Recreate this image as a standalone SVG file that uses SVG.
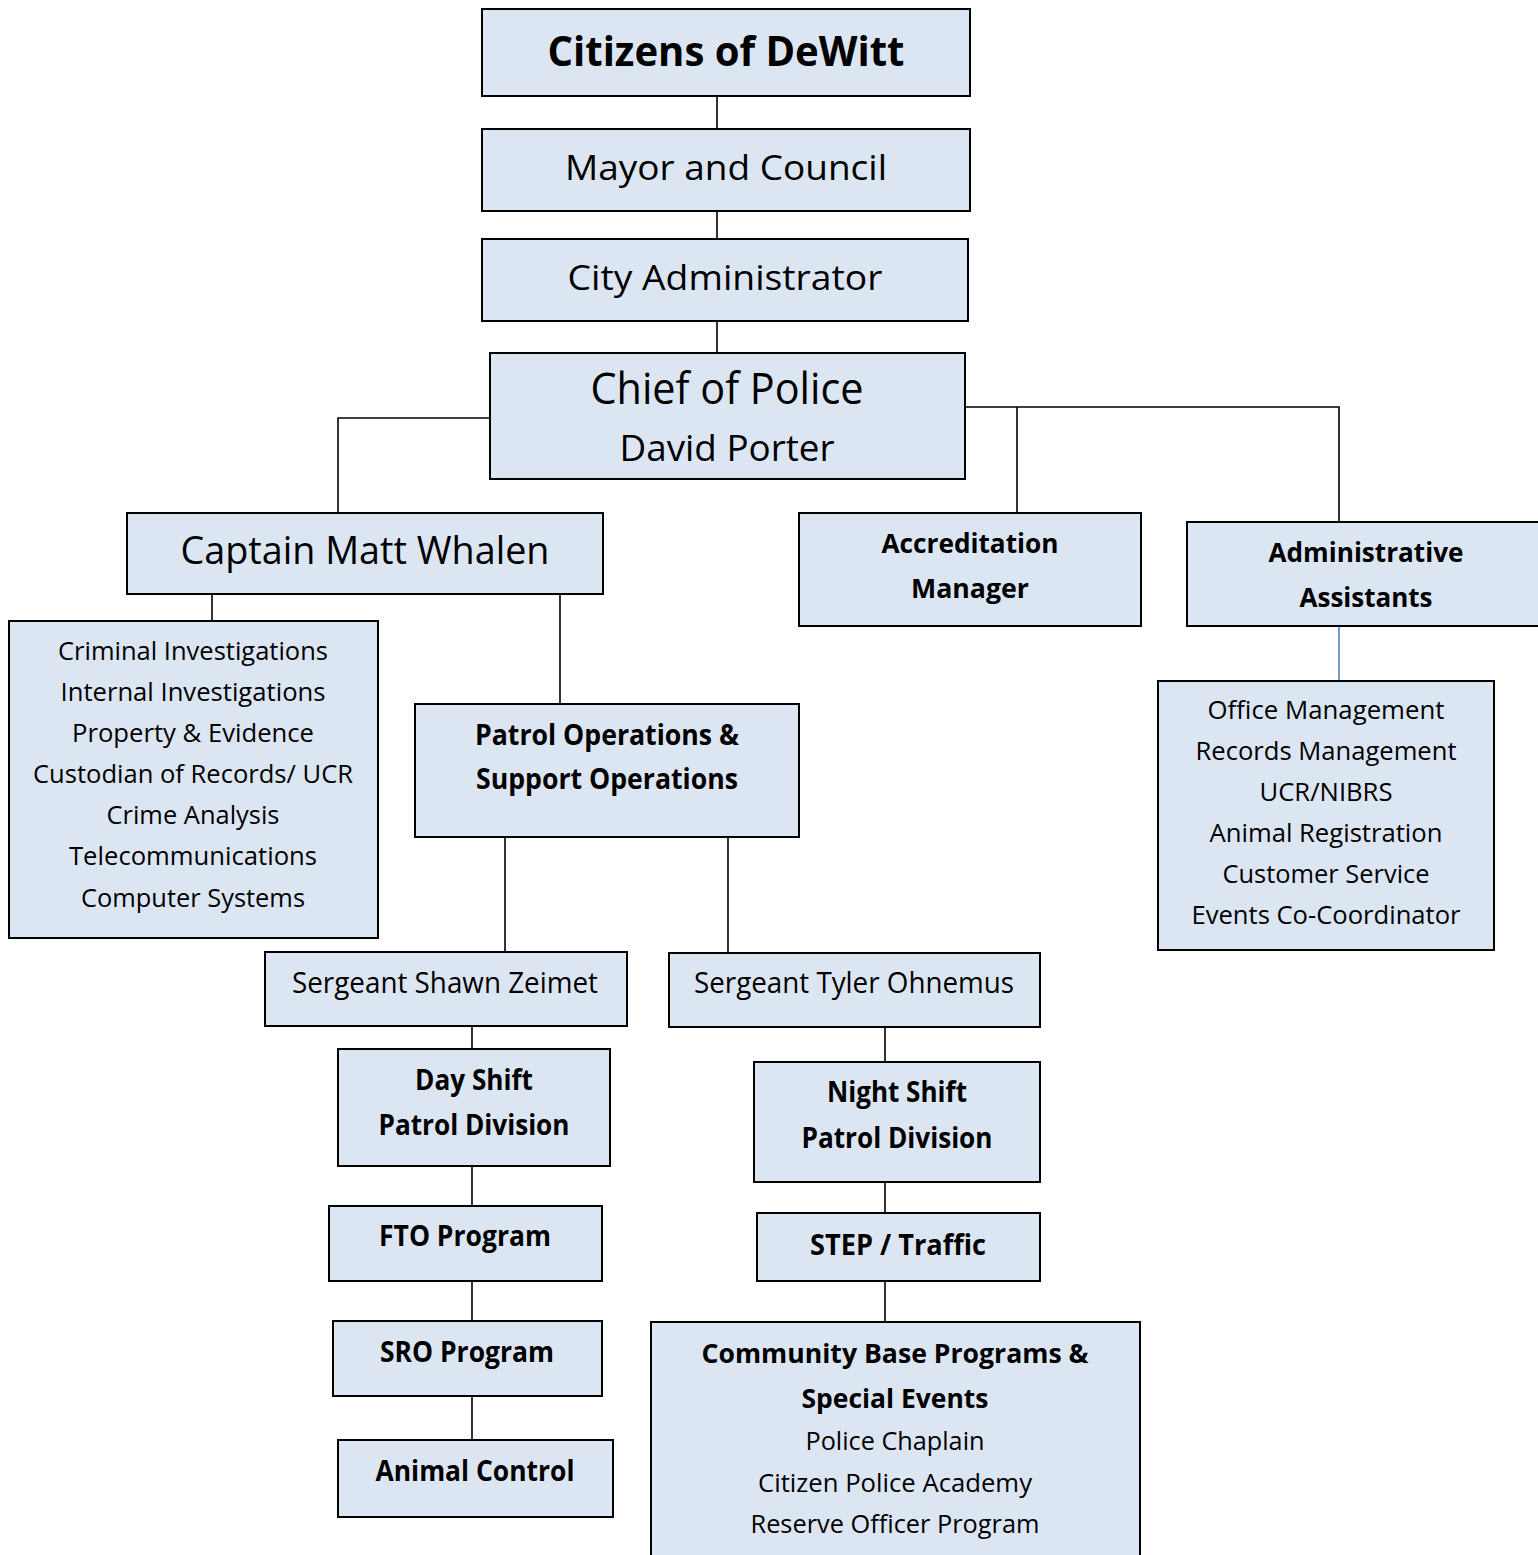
<svg xmlns="http://www.w3.org/2000/svg" width="1538" height="1555" viewBox="0 0 1538 1555">
<style>
.box{fill:#dce6f2;stroke:#000;stroke-width:2}
.ln{fill:none;stroke:#000;stroke-width:1.6}
.bl{fill:none;stroke:#4f81bd;stroke-width:1.6}
text{font-family:"Open Sans","Liberation Sans",sans-serif;fill:#000;text-anchor:middle}
.b{font-weight:bold}
</style>
<rect width="1538" height="1555" fill="#fff"/>
<g id="connectors">
<path class="ln" d="M717 96V129M717 211V239M717 321V353"/>
<path class="ln" d="M490 418H338V513"/>
<path class="ln" d="M965 407H1339V522M1017 407V513"/>
<path class="bl" d="M1339 626V681"/>
<path class="ln" d="M212 594V621M560 594V704"/>
<path class="ln" d="M505 837V952M728 837V952"/>
<path class="ln" d="M472 1026V1049M472 1166V1206M472 1281V1321M472 1396V1440"/>
<path class="ln" d="M885 1027V1062M885 1182V1213M885 1281V1322"/>
</g>
<g id="citizens"><rect class="box" x="482" y="9" width="488" height="87"/><text class="b" x="726" y="66" font-size="42" textLength="357" lengthAdjust="spacingAndGlyphs">Citizens of DeWitt</text></g>
<g id="mayor"><rect class="box" x="482" y="129" width="488" height="82"/><text x="726" y="180" font-size="35" textLength="322" lengthAdjust="spacingAndGlyphs">Mayor and Council</text></g>
<g id="cityadmin"><rect class="box" x="482" y="239" width="486" height="82"/><text x="725" y="290" font-size="35" textLength="315" lengthAdjust="spacingAndGlyphs">City Administrator</text></g>
<g id="chief"><rect class="box" x="490" y="353" width="475" height="126"/><text x="727" y="404" font-size="43" textLength="273" lengthAdjust="spacingAndGlyphs">Chief of Police</text><text x="727" y="461" font-size="36" textLength="215" lengthAdjust="spacingAndGlyphs">David Porter</text></g>
<g id="captain"><rect class="box" x="127" y="513" width="476" height="81"/><text x="365" y="564" font-size="38" textLength="369" lengthAdjust="spacingAndGlyphs">Captain Matt Whalen</text></g>
<g id="captainlist"><rect class="box" x="9" y="621" width="369" height="317"/>
<text x="193" y="660" font-size="26" textLength="270" lengthAdjust="spacingAndGlyphs">Criminal Investigations</text>
<text x="193" y="701" font-size="26" textLength="265" lengthAdjust="spacingAndGlyphs">Internal Investigations</text>
<text x="193" y="742" font-size="26" textLength="242" lengthAdjust="spacingAndGlyphs">Property &amp; Evidence</text>
<text x="193" y="783" font-size="26" textLength="320" lengthAdjust="spacingAndGlyphs">Custodian of Records/ UCR</text>
<text x="193" y="824" font-size="26" textLength="173" lengthAdjust="spacingAndGlyphs">Crime Analysis</text>
<text x="193" y="865" font-size="26" textLength="248" lengthAdjust="spacingAndGlyphs">Telecommunications</text>
<text x="193" y="907" font-size="26" textLength="224" lengthAdjust="spacingAndGlyphs">Computer Systems</text></g>
<g id="patrolops"><rect class="box" x="415" y="704" width="384" height="133"/><text class="b" x="607" y="745" font-size="28" textLength="264" lengthAdjust="spacingAndGlyphs">Patrol Operations &amp;</text><text class="b" x="607" y="789" font-size="28" textLength="262" lengthAdjust="spacingAndGlyphs">Support Operations</text></g>
<g id="accreditation"><rect class="box" x="799" y="513" width="342" height="113"/><text class="b" x="970" y="553" font-size="26" textLength="177" lengthAdjust="spacingAndGlyphs">Accreditation</text><text class="b" x="970" y="598" font-size="26" textLength="118" lengthAdjust="spacingAndGlyphs">Manager</text></g>
<g id="adminassist"><rect class="box" x="1187" y="522" width="360" height="104"/><text class="b" x="1366" y="562" font-size="26" textLength="195" lengthAdjust="spacingAndGlyphs">Administrative</text><text class="b" x="1366" y="607" font-size="26" textLength="133" lengthAdjust="spacingAndGlyphs">Assistants</text></g>
<g id="adminlist"><rect class="box" x="1158" y="681" width="336" height="269"/>
<text x="1326" y="719" font-size="25" textLength="237" lengthAdjust="spacingAndGlyphs">Office Management</text>
<text x="1326" y="760" font-size="25" textLength="261" lengthAdjust="spacingAndGlyphs">Records Management</text>
<text x="1326" y="801" font-size="25" textLength="133" lengthAdjust="spacingAndGlyphs">UCR/NIBRS</text>
<text x="1326" y="842" font-size="25" textLength="233" lengthAdjust="spacingAndGlyphs">Animal Registration</text>
<text x="1326" y="883" font-size="25" textLength="207" lengthAdjust="spacingAndGlyphs">Customer Service</text>
<text x="1326" y="924" font-size="25" textLength="269" lengthAdjust="spacingAndGlyphs">Events Co-Coordinator</text></g>
<g id="sgtzeimet"><rect class="box" x="265" y="952" width="362" height="74"/><text x="445" y="993" font-size="30" textLength="306" lengthAdjust="spacingAndGlyphs">Sergeant Shawn Zeimet</text></g>
<g id="sgtohnemus"><rect class="box" x="669" y="953" width="371" height="74"/><text x="854" y="993" font-size="30" textLength="320" lengthAdjust="spacingAndGlyphs">Sergeant Tyler Ohnemus</text></g>
<g id="dayshift"><rect class="box" x="338" y="1049" width="272" height="117"/><text class="b" x="474" y="1090" font-size="28" textLength="118" lengthAdjust="spacingAndGlyphs">Day Shift</text><text class="b" x="474" y="1135" font-size="28" textLength="191" lengthAdjust="spacingAndGlyphs">Patrol Division</text></g>
<g id="fto"><rect class="box" x="329" y="1206" width="273" height="75"/><text class="b" x="465" y="1246" font-size="28" textLength="172" lengthAdjust="spacingAndGlyphs">FTO Program</text></g>
<g id="sro"><rect class="box" x="333" y="1321" width="269" height="75"/><text class="b" x="467" y="1362" font-size="28" textLength="174" lengthAdjust="spacingAndGlyphs">SRO Program</text></g>
<g id="animalcontrol"><rect class="box" x="338" y="1440" width="275" height="77"/><text class="b" x="475" y="1481" font-size="28" textLength="199" lengthAdjust="spacingAndGlyphs">Animal Control</text></g>
<g id="nightshift"><rect class="box" x="754" y="1062" width="286" height="120"/><text class="b" x="897" y="1102" font-size="28" textLength="140" lengthAdjust="spacingAndGlyphs">Night Shift</text><text class="b" x="897" y="1148" font-size="28" textLength="191" lengthAdjust="spacingAndGlyphs">Patrol Division</text></g>
<g id="step"><rect class="box" x="757" y="1213" width="283" height="68"/><text class="b" x="898" y="1255" font-size="28" textLength="176" lengthAdjust="spacingAndGlyphs">STEP / Traffic</text></g>
<g id="community"><rect class="box" x="651" y="1322" width="489" height="250"/>
<text class="b" x="895" y="1363" font-size="27" textLength="387" lengthAdjust="spacingAndGlyphs">Community Base Programs &amp;</text>
<text class="b" x="895" y="1408" font-size="27" textLength="187" lengthAdjust="spacingAndGlyphs">Special Events</text>
<text x="895" y="1450" font-size="26" textLength="179" lengthAdjust="spacingAndGlyphs">Police Chaplain</text>
<text x="895" y="1492" font-size="26" textLength="274" lengthAdjust="spacingAndGlyphs">Citizen Police Academy</text>
<text x="895" y="1533" font-size="26" textLength="289" lengthAdjust="spacingAndGlyphs">Reserve Officer Program</text></g>
</svg>
